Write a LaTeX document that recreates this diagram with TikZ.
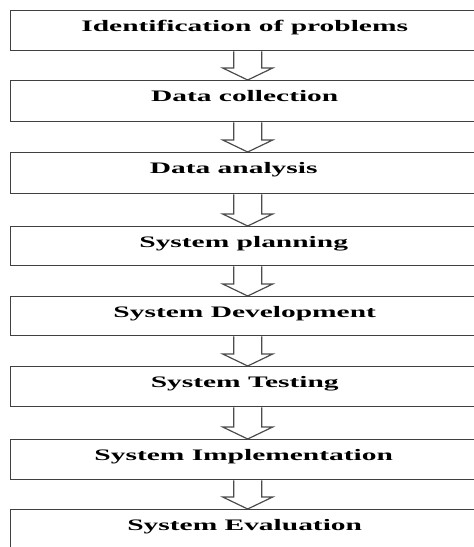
\documentclass[tikz,border=0pt]{standalone}
\usepackage{fontspec}
\setmainfont{Liberation Serif}
\usepackage{graphicx}
\usetikzlibrary{calc}
\newcommand{\wide}[1]{\scalebox{1.84}[1]{#1}}
\newcommand{\flowarrow}[2]{%
  \draw[arr] ($(#1.south)+(-14,0)$) -- ($(#2.north)+(-14,-12)$) -- ($(#2.north)+(-25,-12)$)
    -- (#2.north) -- ($(#2.north)+(25,-12)$) -- ($(#2.north)+(14,-12)$) -- ($(#1.south)+(14,0)$);}
\begin{document}
\begin{tikzpicture}[x=1pt,y=-1pt,
  stepbox/.style={draw=black!75, line width=1.4pt, rectangle, inner sep=0pt,
    minimum width=474pt, anchor=north west},
  lbl/.style={anchor=base, inner sep=0pt, font=\fontsize{16}{19}\selectfont\bfseries},
  arr/.style={draw=black!70, line width=1.2pt, fill=white, line join=miter}]
\useasboundingbox (0,0) rectangle (474,547);
\clip (0,0) rectangle (474,547);
\fill[white] (0,0) rectangle (474,547);
\node[stepbox, minimum height=40pt] (b1) at (10,10) {};
\node[stepbox, minimum height=41pt] (b2) at (10,80) {};
\node[stepbox, minimum height=41pt] (b3) at (10,152) {};
\node[stepbox, minimum height=39pt] (b4) at (10,226) {};
\node[stepbox, minimum height=39pt] (b5) at (10,296) {};
\node[stepbox, minimum height=40pt] (b6) at (10,366) {};
\node[stepbox, minimum height=40pt] (b7) at (10,439) {};
\node[stepbox, minimum height=42pt] (b8) at (10,509) {};
\node[lbl] (t1) at ($(b1.north)+(-3,21)$) {\wide{Identification of problems}};
\node[lbl] (t2) at ($(b2.north)+(-3,21)$) {\wide{Data collection}};
\node[lbl] (t3) at ($(b3.north)+(-14,21)$) {\wide{Data analysis}};
\node[lbl] (t4) at ($(b4.north)+(-4,21)$) {\wide{System planning}};
\node[lbl] (t5) at ($(b5.north)+(-3,21)$) {\wide{System Development}};
\node[lbl] (t6) at ($(b6.north)+(-3,21)$) {\wide{System Testing}};
\node[lbl] (t7) at ($(b7.north)+(-4,21)$) {\wide{System Implementation}};
\node[lbl] (t8) at ($(b8.north)+(-3,21)$) {\wide{System Evaluation}};
\flowarrow{b1}{b2}
\flowarrow{b2}{b3}
\flowarrow{b3}{b4}
\flowarrow{b4}{b5}
\flowarrow{b5}{b6}
\flowarrow{b6}{b7}
\flowarrow{b7}{b8}
\end{tikzpicture}
\end{document}
